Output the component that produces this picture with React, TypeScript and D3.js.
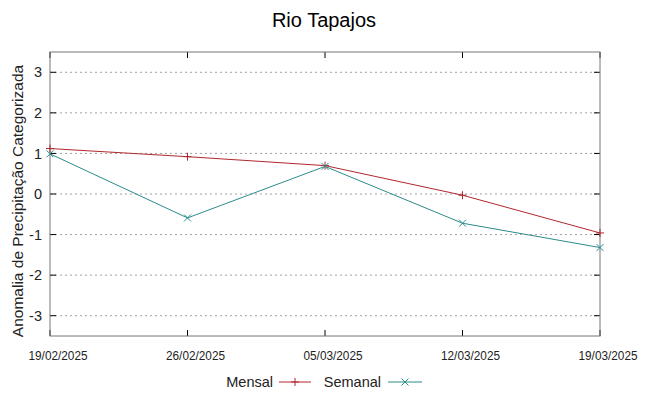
import React from 'react';
import * as d3 from 'd3';

const dates = ['19/02/2025', '26/02/2025', '05/03/2025', '12/03/2025', '19/03/2025'];
const mensal = [1.12, 0.92, 0.7, -0.03, -0.96];
const semanal = [0.99, -0.59, 0.68, -0.72, -1.32];
const yTicks = [-3, -2, -1, 0, 1, 2, 3];

const W = 648;
const H = 396;
const margin = { top: 52, right: 48, bottom: 60, left: 50 };
const RED = '#b0282e';
const TEAL = '#2b8c8c';
const FONT = '"Liberation Sans", Arial, sans-serif';

const App = () => {
  const x = d3.scalePoint<string>()
    .domain(dates)
    .range([margin.left, W - margin.right]);
  const y = d3.scaleLinear()
    .domain([-3.5, 3.5])
    .range([H - margin.bottom, margin.top]);

  const line = d3.line<number>()
    .x((d, i) => x(dates[i]) as number)
    .y(d => y(d));

  const plus = (cx: number, cy: number, c: string, k: string) => (
    <path key={k} d={`M${cx - 4},${cy}H${cx + 4}M${cx},${cy - 4}V${cy + 4}`} stroke={c} strokeWidth={1} />
  );
  const cross = (cx: number, cy: number, c: string, k: string) => (
    <path key={k} d={`M${cx - 3.5},${cy - 3.5}L${cx + 3.5},${cy + 3.5}M${cx - 3.5},${cy + 3.5}L${cx + 3.5},${cy - 3.5}`} stroke={c} strokeWidth={1} />
  );

  const x0 = margin.left;
  const x1 = W - margin.right;
  const y0 = margin.top;
  const y1 = H - margin.bottom;

  return (
    <svg width={W} height={H} style={{ position: 'absolute', left: 0, top: 0, background: '#fff' }} fontFamily={FONT}>
      <text x={W / 2} y={27} textAnchor="middle" fontSize={20} fill="#000">Rio Tapajos</text>

      {/* grid */}
      {yTicks.map(t => (
        <g key={t}>
          <line x1={x0} x2={x1} y1={y(t)} y2={y(t)} stroke="#a0a0a0" strokeDasharray="2,3" strokeWidth={1} />
          <line x1={x0} x2={x0 + 6} y1={y(t)} y2={y(t)} stroke="#000" />
          <line x1={x1 - 6} x2={x1} y1={y(t)} y2={y(t)} stroke="#000" />
          <text x={x0 - 8} y={y(t)} dy="0.35em" textAnchor="end" fontSize={14.5} fill="#222">{t}</text>
        </g>
      ))}

      {dates.map(d => (
        <g key={d}>
          <line x1={x(d)} x2={x(d)} y1={y1} y2={y1 - 6} stroke="#000" />
          <line x1={x(d)} x2={x(d)} y1={y0} y2={y0 + 6} stroke="#000" />
          <text x={(x(d) as number) + 8} y={360} textAnchor="middle" fontSize={12} fill="#222" textLength={59} lengthAdjust="spacingAndGlyphs">{d}</text>
        </g>
      ))}

      <rect x={x0} y={y0} width={x1 - x0} height={y1 - y0} fill="none" stroke="#777" strokeWidth={1} />

      <path d={line(mensal) as string} fill="none" stroke={RED} strokeWidth={1} />
      <path d={line(semanal) as string} fill="none" stroke={TEAL} strokeWidth={1} />
      {mensal.map((v, i) => plus(x(dates[i]) as number, y(v), RED, 'm' + i))}
      {semanal.map((v, i) => cross(x(dates[i]) as number, y(v), TEAL, 's' + i))}

      <text transform={`translate(23,${(y0 + y1) / 2 + 7}) rotate(-90)`} textAnchor="middle" fontSize={15.5} fill="#222">
        Anomalia de Precipitação Categorizada
      </text>

      {/* legend */}
      <text x={273} y={387} textAnchor="end" fontSize={14.5} fill="#222">Mensal</text>
      <line x1={279} x2={311} y1={382} y2={382} stroke={RED} />
      {plus(295, 382, RED, 'lm')}
      <text x={381} y={387} textAnchor="end" fontSize={14.5} fill="#222">Semanal</text>
      <line x1={388} x2={422} y1={382} y2={382} stroke={TEAL} />
      {cross(405, 382, TEAL, 'ls')}
    </svg>
  );
};

export default App;
